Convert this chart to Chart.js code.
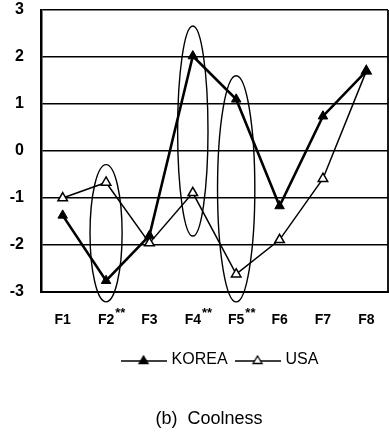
<!DOCTYPE html>
<html><head><meta charset="utf-8">
<script src="https://cdn.jsdelivr.net/npm/chart.js@4"></script>
<style>html,body{margin:0;padding:0;background:#fff}#wrap{width:389px;height:434px}</style>
</head><body><div id="wrap"><canvas id="c" width="389" height="434"></canvas></div>
<script>
// ---- data ----
const categories = ['F1','F2','F3','F4','F5','F6','F7','F8'];
const koreaValues = [-1.37,-2.76,-1.8,2.02,1.1,-1.17,0.74,1.7];
const usaValues = [-1.0,-0.67,-1.96,-0.89,-2.62,-1.89,-0.59,1.7];
const yTickValues = [3,2,1,0,-1,-2,-3];
const seriesNames = ['KOREA','USA'];
const significantCats = ['F2','F4','F5'];
const circledCats = ['F2','F4','F5'];
const circledTop = [-0.29,2.66,1.6];
const circledBottom = [-3.21,-1.81,-3.21];
const titleText = '(b)  Coolness';

// ---- styles ----
const FONT = "'Liberation Sans', Arial, Helvetica, sans-serif";
const circleHalfWidth = [0.37,0.35,0.43]; // in category units

function legendSymbol(filled){
  const c = document.createElement('canvas');
  c.width = 46; c.height = 12;
  const g = c.getContext('2d');
  g.strokeStyle = '#000'; g.lineWidth = filled ? 1.6 : 1.3;
  g.beginPath(); g.moveTo(0,7); g.lineTo(46,7); g.stroke();
  g.beginPath(); g.moveTo(23,2); g.lineTo(27.5,9.5); g.lineTo(18.5,9.5); g.closePath();
  g.fillStyle = filled ? '#000' : '#fff'; g.fill();
  g.lineWidth = 1.3; g.stroke();
  return c;
}
const symbols = [legendSymbol(true), legendSymbol(false)];

const decorPlugin = {
  id: 'decor',
  afterLayout(chart){
    chart.legend.left += 27; chart.legend.right += 27;
    chart.titleBlock.left += 15; chart.titleBlock.right += 15;
  },
  beforeDatasetsDraw(chart){
    const {ctx, chartArea:a, scales:{x,y}} = chart;
    ctx.save();
    ctx.strokeStyle = '#000'; ctx.lineWidth = 1.8;
    ctx.beginPath(); ctx.moveTo(a.right, a.top); ctx.lineTo(a.right, a.bottom); ctx.stroke();
    ctx.lineWidth = 1.4;
    const unit = x.getPixelForValue(1) - x.getPixelForValue(0);
    circledCats.forEach((c,i)=>{
      const idx = categories.indexOf(c);
      const cx = x.getPixelForValue(idx);
      const yt = y.getPixelForValue(circledTop[i]);
      const yb = y.getPixelForValue(circledBottom[i]);
      ctx.beginPath();
      ctx.ellipse(cx, (yt+yb)/2, circleHalfWidth[i]*unit, (yb-yt)/2, 0, 0, Math.PI*2);
      ctx.stroke();
    });
    ctx.restore();
  },
  afterDraw(chart){
    const {ctx, scales:{x}} = chart;
    ctx.save();
    ctx.fillStyle = '#000';
    significantCats.forEach(c=>{
      const idx = categories.indexOf(c);
      const px = x.getPixelForValue(idx);
      ctx.font = 'bold 14px ' + FONT;
      const w = ctx.measureText(c).width;
      ctx.font = 'bold 13px ' + FONT;
      ctx.textAlign = 'left'; ctx.textBaseline = 'middle';
      ctx.fillText('**', px + w/2 + 1, x.top + 21);
    });
    ctx.restore();
  }
};

new Chart(document.getElementById('c'), {
  type: 'line',
  data: {
    labels: categories,
    datasets: [
      {label: seriesNames[0], data: koreaValues, borderColor:'#000', backgroundColor:'#000',
       borderWidth: 2.6, pointStyle:'triangle', pointRadius: 5.5, pointBackgroundColor:'#000',
       pointBorderColor:'#000', pointBorderWidth:1, tension:0},
      {label: seriesNames[1], data: usaValues, borderColor:'#000', backgroundColor:'#fff',
       borderWidth: 1.5, pointStyle:'triangle', pointRadius: 5.5, pointBackgroundColor:'#fff',
       pointBorderColor:'#000', pointBorderWidth:1.5, tension:0}
    ]
  },
  options: {
    responsive: false,
    animation: false,
    devicePixelRatio: 1,
    layout: {autoPadding: false, padding: {top: 10, right: 1, bottom: 4.4, left: 0}},
    scales: {
      x: {
        offset: true,
        grid: {display: false, drawTicks: false},
        border: {display: true, color: '#000', width: 2},
        ticks: {color:'#000', font: {family: FONT, size: 14, weight: 'bold'}, padding: 20, maxRotation: 0},
        afterFit(s){ s.height = 50; s.paddingLeft = 0; s.paddingRight = 0; }
      },
      y: {
        min: -3, max: 3,
        afterBuildTicks(s){ s.ticks = yTickValues.map(v => ({value: v})); },
        grid: {color:'#000', lineWidth: 1.6, drawTicks: false},
        border: {display: true, color:'#000', width: 2.5},
        ticks: {color:'#000', font: {family: FONT, size: 16, weight: 'bold'}, padding: 17},
        afterFit(s){ s.width = 41; s.paddingTop = 0; s.paddingBottom = 0; }
      }
    },
    plugins: {
      legend: {
        position: 'bottom',
        labels: {
          usePointStyle: true, pointStyleWidth: 40, padding: 10,
          color: '#000', font: {family: FONT, size: 16},
          generateLabels(chart){
            const items = Chart.defaults.plugins.legend.labels.generateLabels(chart);
            items.forEach((it,i)=>{ it.pointStyle = symbols[i]; it.lineWidth = 0; });
            return items;
          }
        }
      },
      title: {
        display: true, position: 'bottom', text: titleText, color: '#000',
        font: {family: FONT, size: 18, weight: 'normal'}, padding: {top: 30, bottom: 0}
      },
      tooltip: {enabled: false}
    }
  },
  plugins: [decorPlugin]
});
</script>
</body></html>
